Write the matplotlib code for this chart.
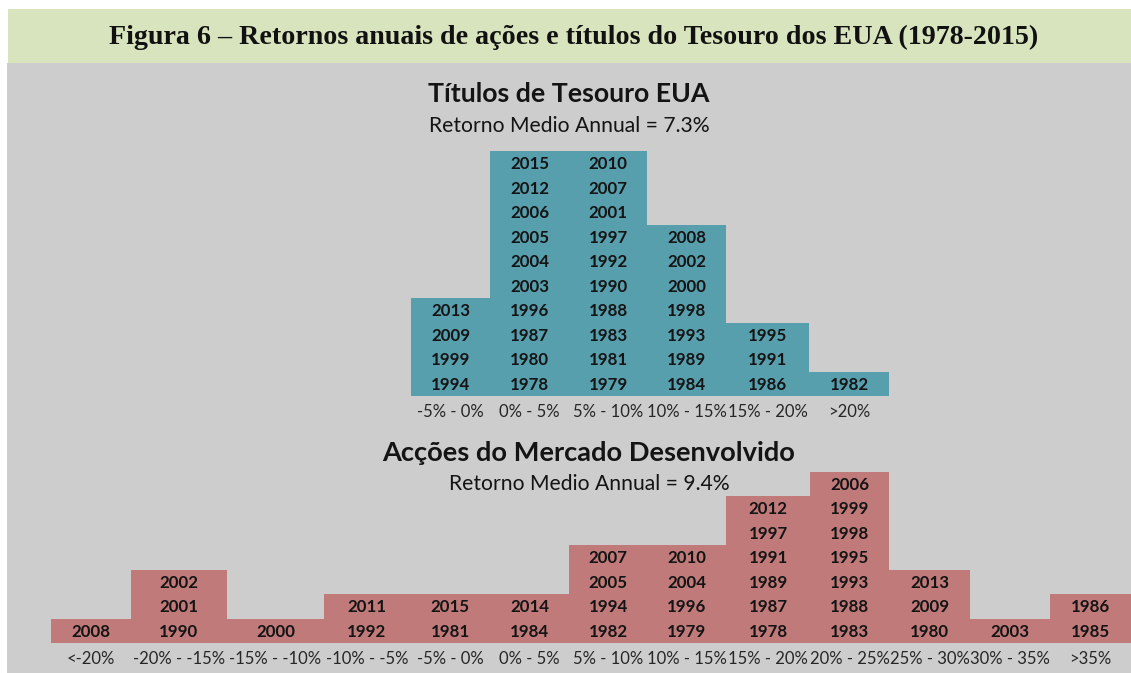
import matplotlib
matplotlib.use("Agg")
import matplotlib.pyplot as plt
from matplotlib.patches import Rectangle

# ---------------- data ----------------
bond_bins = ["-5% - 0%", "0% - 5%", "5% - 10%", "10% - 15%", "15% - 20%", ">20%"]
bond_years = [
    [1994, 1999, 2009, 2013],
    [1978, 1980, 1987, 1996, 2003, 2004, 2005, 2006, 2012, 2015],
    [1979, 1981, 1983, 1988, 1990, 1992, 1997, 2001, 2007, 2010],
    [1984, 1989, 1993, 1998, 2000, 2002, 2008],
    [1986, 1991, 1995],
    [1982],
]
stock_bins = ["<-20%", "-20% - -15%", "-15% - -10%", "-10% - -5%", "-5% - 0%",
              "0% - 5%", "5% - 10%", "10% - 15%", "15% - 20%", "20% - 25%",
              "25% - 30%", "30% - 35%", ">35%"]
stock_years = [
    [2008],
    [1990, 2001, 2002],
    [2000],
    [1992, 2011],
    [1981, 2015],
    [1984, 2014],
    [1982, 1994, 2005, 2007],
    [1979, 1996, 2004, 2010],
    [1978, 1987, 1989, 1991, 1997, 2012],
    [1983, 1988, 1993, 1995, 1998, 1999, 2006],
    [1980, 2009, 2013],
    [2003],
    [1985, 1986],
]
fig_title = "Figura 6 – Retornos anuais de ações e títulos do Tesouro dos EUA (1978-2015)"
bond_title = "Títulos de Tesouro EUA"
bond_sub = "Retorno Medio Annual = 7.3%"
stock_title = "Acções do Mercado Desenvolvido"
stock_sub = "Retorno Medio Annual = 9.4%"

# ---------------- layout (pixels) ----------------
W, H = 1131, 673
bond_edges = [411, 490, 569, 647, 726, 809, 889]
stock_edges = [51, 131, 227, 324, 410, 490, 569, 647, 726, 810, 889, 970, 1050, 1131]
ROW = 24.5
BOND_BASE = 396
STOCK_BASE = 643

GRAY = "#CDCDCD"
GREEN = "#D7E4BD"
TEAL = "#589FAE"
PINK = "#C17A7A"
TXT = "#141414"

FONT = "Lato"

fig = plt.figure(figsize=(W / 100, H / 100), dpi=100)
fig.patch.set_facecolor("white")

def fx(x):
    return x / W

def fy(y):
    return 1 - y / H

# backgrounds
fig.patches.append(Rectangle((fx(7), fy(H)), 1 - fx(7), fy(63) - fy(H),
                             transform=fig.transFigure, facecolor=GRAY, edgecolor="none", zorder=-2))
fig.patches.append(Rectangle((fx(8), fy(63)), 1 - fx(8), fy(9) - fy(63),
                             transform=fig.transFigure, facecolor=GREEN, edgecolor="none", zorder=-2))
fig.text(fx(574), fy(37), fig_title, ha="center", va="center", fontsize=20.2,
         fontweight="bold", family="Liberation Serif", color="#111111")


def draw(edges, years, bins, base, nrows, color):
    left, right = edges[0], edges[-1]
    ax = fig.add_axes([fx(left), fy(base), fx(right) - fx(left), fy(base - nrows * ROW) - fy(base)])
    ax.set_zorder(1)
    ax.set_facecolor("none")
    lefts = [e - left for e in edges[:-1]]
    widths = [b - a for a, b in zip(edges[:-1], edges[1:])]
    counts = [len(y) for y in years]
    ax.bar(lefts, counts, width=widths, align="edge", color=color, edgecolor="none", linewidth=0)
    for l, w, ys in zip(lefts, widths, years):
        for i, yr in enumerate(ys):
            ax.text(l + w / 2, i + 0.45, str(yr), ha="center", va="center",
                    fontsize=12.2, fontweight="bold", family=FONT, color=TXT)
    ax.set_xlim(0, right - left)
    ax.set_ylim(0, nrows)
    ax.set_xticks([l + w / 2 for l, w in zip(lefts, widths)])
    ax.set_xticklabels(bins, fontsize=12, family=FONT, color="#262626")
    ax.tick_params(axis="x", length=0, pad=5.5)
    ax.set_yticks([])
    for s in ax.spines.values():
        s.set_visible(False)
    return ax

draw(bond_edges, bond_years, bond_bins, BOND_BASE, 10, TEAL)
draw(stock_edges, stock_years, stock_bins, STOCK_BASE, 7, PINK)

fig.text(fx(569), fy(94), bond_title, ha="center", va="center", fontsize=19.3,
         fontweight="bold", family=FONT, color=TXT)
fig.text(fx(569), fy(126), bond_sub, ha="center", va="center", fontsize=15.2,
         family=FONT, color=TXT)
fig.text(fx(589), fy(453), stock_title, ha="center", va="center", fontsize=19.6,
         fontweight="bold", family=FONT, color=TXT)
fig.text(fx(589), fy(484), stock_sub, ha="center", va="center", fontsize=15.2,
         family=FONT, color=TXT)

fig.savefig("out.png", dpi=100, facecolor="white")
